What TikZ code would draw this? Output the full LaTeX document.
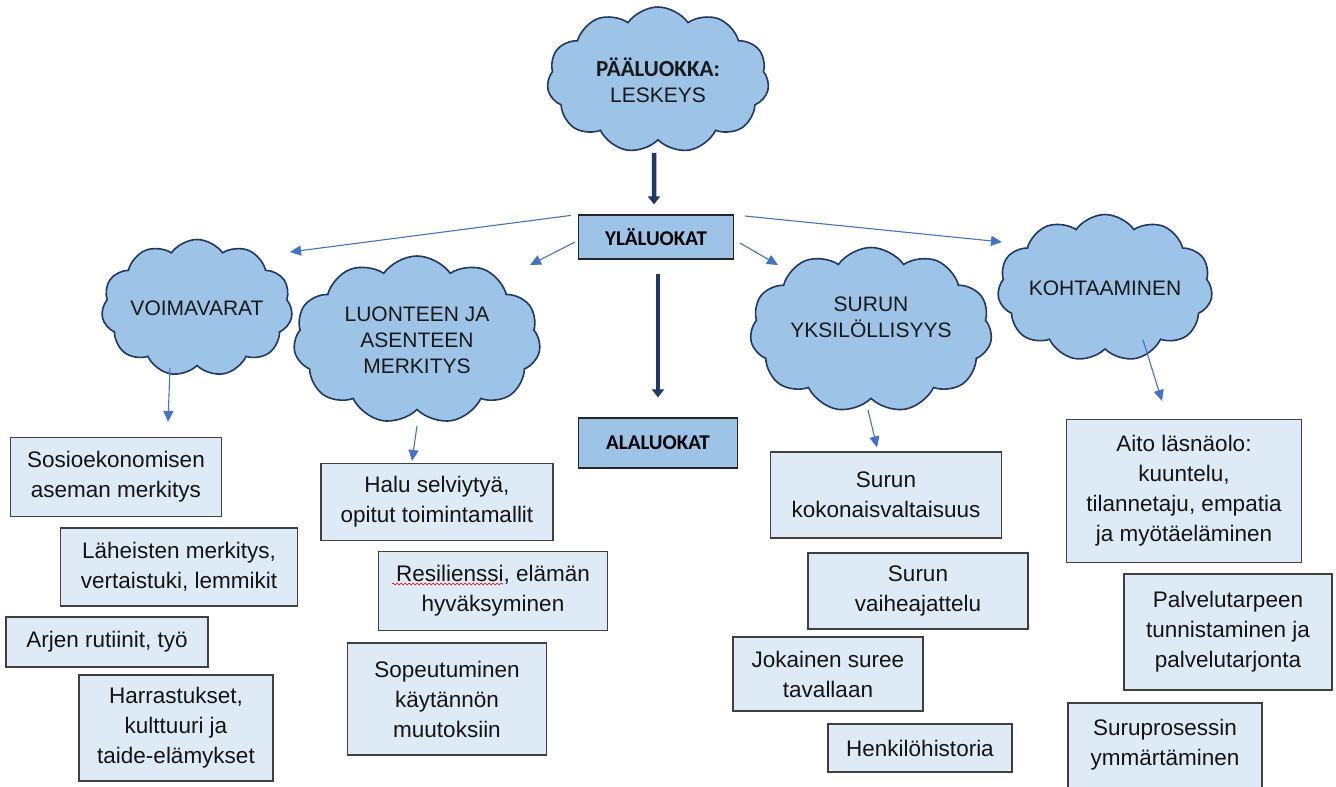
\documentclass[tikz,border=0pt]{standalone}
\usepackage{fontspec}
\setmainfont{Liberation Sans}
\newfontfamily\titlefont{Carlito}
\usetikzlibrary{shapes.symbols,arrows.meta,decorations.pathmorphing}
\definecolor{cloudfill}{HTML}{9DC3E6}
\definecolor{cloudline}{HTML}{203864}
\definecolor{boxfill}{HTML}{DEEBF7}
\definecolor{boxline}{HTML}{404040}
\definecolor{thinarrow}{HTML}{4472C4}
\definecolor{thickarrow}{HTML}{203864}
\begin{document}
\begin{tikzpicture}[x=1pt,y=-1pt,
 cloudnode/.style={cloud, cloud puffs=11, cloud puff arc=110, cloud ignores aspect, draw=cloudline, line width=1.6pt, fill=cloudfill, align=center, inner sep=0pt, font=\fontsize{21}{26}\selectfont, text=black!90},
 subbox/.style={draw=boxline, line width=1.2pt, fill=boxfill, align=center, inner sep=0pt, font=\fontsize{22.5}{30}\selectfont, text=black!92},
 levelbox/.style={draw=black!85, line width=1.2pt, fill=cloudfill, inner sep=0pt, font=\titlefont\bfseries\fontsize{21}{24}\selectfont},
 thinarr/.style={draw=thinarrow, line width=1.1pt, -{Triangle[width=10pt,length=11pt]}},
 thickarr/.style={draw=thickarrow, line width=4.5pt, -{Triangle[width=12pt,length=8pt]}}
]
\fill[white] (0,0) rectangle (1336,787);
\useasboundingbox (0,0) rectangle (1336,787);

% clouds
\node[cloudnode, minimum width=222pt, minimum height=146pt] (paa) at (658,80)
  {{\titlefont\bfseries\fontsize{23}{27}\selectfont PÄÄLUOKKA:}\\LESKEYS};
\node[cloudnode, minimum width=191pt, minimum height=137pt] (voima) at (197,308) {VOIMAVARAT};
\node[cloudnode, minimum width=247pt, minimum height=168pt] (luonne) at (417,340) {LUONTEEN JA\\ASENTEEN\\MERKITYS};
\node[cloudnode, minimum width=242pt, minimum height=165pt] (surun) at (871,330) {SURUN\\YKSILÖLLISYYS\\\mbox{}};
\node[cloudnode, minimum width=215pt, minimum height=147pt] (koht) at (1105,288) {KOHTAAMINEN};

% level boxes
\node[levelbox, minimum width=155pt, minimum height=44pt] (yla) at (656,237) {YLÄLUOKAT};
\node[levelbox, minimum width=159pt, minimum height=50pt] (ala) at (658,443) {ALALUOKAT};

% sub boxes
\node[subbox, minimum width=211pt, minimum height=79pt] (sosio) at (116,477) {Sosioekonomisen\\aseman merkitys};
\node[subbox, minimum width=237pt, minimum height=78pt] (lah) at (179,567) {Läheisten merkitys,\\vertaistuki, lemmikit};
\node[subbox, minimum width=202pt, minimum height=50pt] (arki) at (107,642) {Arjen rutiinit, työ};
\node[subbox, minimum width=194pt, minimum height=106pt] (harr) at (176,728) {Harrastukset,\\kulttuuri ja\\taide-elämykset};
\node[subbox, minimum width=232pt, minimum height=77pt] (halu) at (437,502) {Halu selviytyä,\\opitut toimintamallit};
\node[subbox, minimum width=229pt, minimum height=79pt] (resil) at (493,591) {Resilienssi, elämän\\hyväksyminen};
\node[subbox, minimum width=199pt, minimum height=112pt] (sopeu) at (447,699) {Sopeutuminen\\käytännön\\muutoksiin};
\node[subbox, minimum width=231pt, minimum height=86pt] (koko) at (886,495) {Surun\\kokonaisvaltaisuus};
\node[subbox, minimum width=220pt, minimum height=76pt] (vaihe) at (918,591) {Surun\\vaiheajattelu};
\node[subbox, minimum width=190pt, minimum height=74pt] (jokai) at (828,674) {Jokainen suree\\tavallaan};
\node[subbox, minimum width=184pt, minimum height=48pt] (henk) at (920,748) {Henkilöhistoria};
\node[subbox, minimum width=235pt, minimum height=143pt] (aito) at (1184,491) {Aito läsnäolo:\\kuuntelu,\\tilannetaju, empatia\\ja myötäeläminen};
\node[subbox, minimum width=208pt, minimum height=116pt] (palv) at (1228,632) {Palvelutarpeen\\tunnistaminen ja\\palvelutarjonta};
\node[subbox, minimum width=194pt, minimum height=108pt] (suru) at (1165,757) {Suruprosessin\\ymmärtäminen\\\mbox{}};

% spell-check squiggle
\draw[red!85!black, line width=0.6pt, decorate, decoration={snake, amplitude=1pt, segment length=4pt}]
  ([shift={(-101,-7)}]resil.center) -- ([shift={(10,-7)}]resil.center);

% thick arrows
\draw[thickarr] ([shift={(-4,12)}]paa.south) -- ([shift={(-2,-10)}]yla.north);
\draw[thickarr] ([shift={(2,14)}]yla.south) -- ([shift={(0,-20)}]ala.north);

% thin arrows from YLÄLUOKAT
\draw[thinarr] ([shift={(-7,1)}]yla.north west) -- ([shift={(93,-56)}]voima.center);
\draw[thinarr] ([shift={(-81,5)}]yla.center) -- ([shift={(113,-75)}]luonne.center);
\draw[thinarr] ([shift={(84,6)}]yla.center) -- ([shift={(-93,-65)}]surun.center);
\draw[thinarr] ([shift={(89,-21)}]yla.center) -- ([shift={(-103,-46)}]koht.center);

% cloud to box arrows
\draw[thinarr] ([shift={(-27,60)}]voima.center) -- ([shift={(52,-15)}]sosio.north);
\draw[thinarr] ([shift={(0,86)}]luonne.center) -- ([shift={(-25,-2)}]halu.north);
\draw[thinarr] ([shift={(-3,80)}]surun.center) -- ([shift={(-9,-4)}]koko.north);
\draw[thinarr] ([shift={(38,52)}]koht.center) -- ([shift={(-22,-18)}]aito.north);
\end{tikzpicture}
\end{document}
